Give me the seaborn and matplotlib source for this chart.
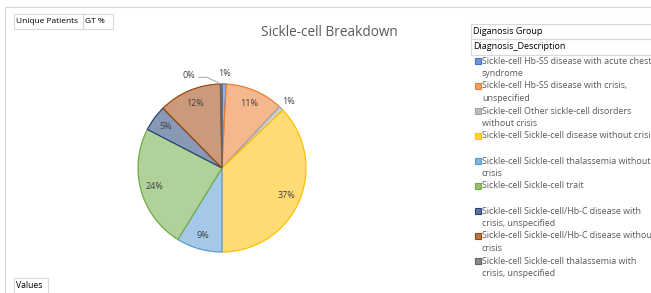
import matplotlib
matplotlib.use("Agg")
import numpy as np
import matplotlib.pyplot as plt
import matplotlib.colors as mcolors
from matplotlib.patches import Rectangle
import seaborn as sns

# pie slices, clockwise from 12 o'clock (GT % of unique patients)
shares = [0.8, 11.2, 0.9, 37.1, 8.8, 23.8, 5.0, 12.1, 0.3]
base_colors = ["#4472C4", "#ED7D31", "#A5A5A5", "#FFC000", "#5B9BD5",
               "#70AD47", "#264478", "#9E480E", "#636363"]
legend_lines = [
    ["Sickle-cell Hb-SS disease with acute chest", "syndrome"],
    ["Sickle-cell Hb-SS disease with crisis,", "unspecified"],
    ["Sickle-cell Other sickle-cell disorders", "without crisis"],
    ["Sickle-cell Sickle-cell disease without crisis", ""],
    ["Sickle-cell Sickle-cell thalassemia without", "crisis"],
    ["Sickle-cell Sickle-cell trait", ""],
    ["Sickle-cell Sickle-cell/Hb-C disease with", "crisis, unspecified"],
    ["Sickle-cell Sickle-cell/Hb-C disease without", "crisis"],
    ["Sickle-cell Sickle-cell thalassemia with", "crisis, unspecified"],
]
outside_idx = [0, 2, 8]

W, H = 651, 293
FONT = "Open Sans"


def tint(c, a=0.55):
    r = np.array(mcolors.to_rgb(c))
    return tuple(1 - a * (1 - r))


def px(x, y):
    return x / W, 1 - y / H


def boxText(fig, x0, y0, x1, y1, text, size=6.2):
    fx, fy = px(x0, y1)
    fig.patches.append(Rectangle((fx, fy), (x1 - x0) / W, (y1 - y0) / H,
                                 transform=fig.transFigure, fill=False,
                                 edgecolor="#D9D9D9", linewidth=0.8))
    tx, ty = px(x0 + 2, (y0 + y1) / 2)
    fig.text(tx, ty, text, fontsize=size, color="#000000", va="center",
             ha="left")


def createChart():
    sns.set_style("white")
    plt.rcParams["font.family"] = [FONT, "DejaVu Sans"]

    fig = plt.figure(figsize=(W / 100, H / 100), dpi=100)

    # chart area border
    bx, by = px(5, 300)
    fig.patches.append(Rectangle((bx, by), 1.0, (300 - 7) / H,
                                 transform=fig.transFigure, fill=False,
                                 edgecolor="#D9D9D9", linewidth=0.8))

    cx, cy, r = 222, 168, 84
    ax = fig.add_axes([(cx - r) / W, (H - cy - r) / H, 2 * r / W, 2 * r / H])
    fills = [tint(c) for c in base_colors]
    wedges, _ = ax.pie(shares, colors=fills, startangle=90, counterclock=False,
                       wedgeprops=dict(linewidth=0.9))
    for w, c in zip(wedges, base_colors):
        w.set_edgecolor(c)
    ax.set_xlim(-1, 1)
    ax.set_ylim(-1, 1)
    ax.set_aspect("equal")
    ax.axis("off")

    for i, (w, v) in enumerate(zip(wedges, shares)):
        mid = np.deg2rad((w.theta1 + w.theta2) / 2)
        lbl = f"{round(v):d}%"
        if i == 8:
            ex, ey = np.cos(mid), np.sin(mid)
            tx, ty = -0.40, 1.10
            ax.plot([tx + 0.12, tx + 0.22, ex], [ty - 0.02, ty - 0.02, ey],
                    color="#A6A6A6", linewidth=0.7, clip_on=False)
            ax.text(tx, ty, lbl, ha="center", va="center", fontsize=6.5,
                    color="#404040", clip_on=False)
        elif i in outside_idx:
            d = 1.12
            ax.text(d * np.cos(mid), d * np.sin(mid), lbl, ha="center",
                    va="center", fontsize=6.5, color="#404040", clip_on=False)
        else:
            d = 0.83
            ax.text(d * np.cos(mid), d * np.sin(mid), lbl, ha="center",
                    va="center", fontsize=6.5, color="#404040")

    tx, ty = px(329, 33)
    fig.text(tx, ty, "Sickle-cell Breakdown", fontsize=9.8, color="#595959",
             ha="center", va="center")

    boxText(fig, 14, 14, 83, 29, "Unique Patients", size=6.0)
    boxText(fig, 83, 14, 113, 29, "GT %", size=6.0)
    boxText(fig, 14, 278, 48, 294, "Values", size=6.2)
    boxText(fig, 471, 24, 660, 39, "Diganosis Group", size=6.5)
    boxText(fig, 471, 39, 660, 55, "Diagnosis_Description", size=6.5)

    for k, (lines, c) in enumerate(zip(legend_lines, base_colors)):
        y = 61 + 25 * k
        sx, sy = px(475, y + 3)
        fig.patches.append(Rectangle((sx, sy), 6 / W, 6 / H,
                                     transform=fig.transFigure,
                                     facecolor=tint(c, 0.75), edgecolor=c,
                                     linewidth=0.8))
        for j, line in enumerate(lines):
            lx, ly = px(482, y + 12.5 * j)
            fig.text(lx, ly, line, fontsize=6.4, color="#595959",
                     ha="left", va="center")

    fig.savefig("out.png", dpi=100)
    plt.close(fig)


if __name__ == "__main__":
    createChart()
